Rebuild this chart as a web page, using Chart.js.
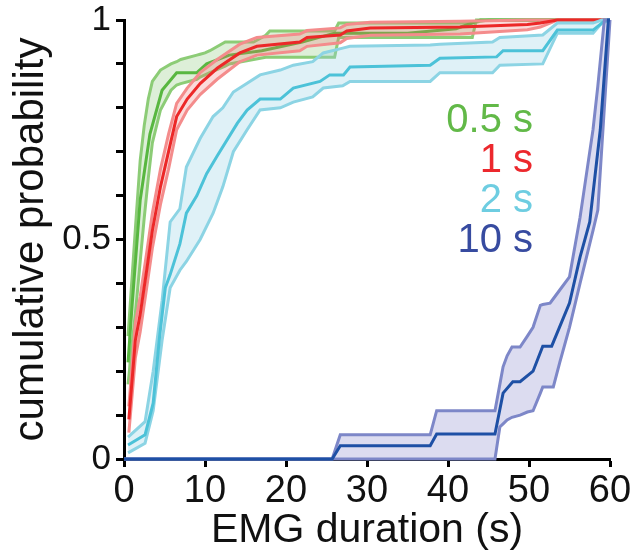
<!DOCTYPE html>
<html>
<head>
<meta charset="utf-8">
<script src="https://cdn.jsdelivr.net/npm/chart.js@4.4.1/dist/chart.umd.min.js"></script>
<style>
	html, body { margin: 0; padding: 0; background: #fff; }
	#wrap { width: 641px; height: 557px; }
</style>
</head>
<body>
<div id="wrap"><canvas id="cdf-chart" width="641" height="557"></canvas></div>
<script>
// 0.5 s group
const greenX = [0.5, 1, 2, 3.2, 4.7, 6.5, 9, 10.2, 13, 17, 22, 26, 35, 41, 44, 60]
const greenMean = [0.22, 0.35, 0.59, 0.74, 0.84, 0.88, 0.88, 0.9, 0.92, 0.93, 0.95, 0.97, 0.97, 0.98, 1, 1]
const greenBandX = [0.5, 1.5, 2, 2.5, 3, 3.5, 4.5, 5.8, 6.5, 7, 9, 9.4, 10, 10.6, 12.5, 13, 16, 17.5, 18, 26, 26.5, 43, 43.5, 44, 45, 60]
const greenUpper = [0.28, 0.55, 0.68, 0.76, 0.82, 0.86, 0.886, 0.9, 0.905, 0.91, 0.92, 0.922, 0.925, 0.93, 0.95, 0.95, 0.95, 0.965, 0.975, 0.975, 0.993, 0.993, 0.995, 0.997, 1, 1]
const greenLower = [0.17, 0.35, 0.45, 0.55, 0.64, 0.72, 0.795, 0.84, 0.852, 0.855, 0.865, 0.87, 0.875, 0.88, 0.895, 0.9, 0.91, 0.915, 0.915, 0.915, 0.96, 0.96, 1, 1, 1, 1]

// 1 s group
const redX = [0.6, 1.4, 2, 2.8, 3.5, 4.5, 5.5, 6.5, 7.8, 9.4, 11.5, 14.3, 16.4, 21.7, 22.6, 26.7, 27.5, 30.4, 41.5, 49.8, 51.4, 53.5, 60]
const redMean = [0.09, 0.27, 0.33, 0.43, 0.52, 0.62, 0.7, 0.78, 0.82, 0.855, 0.89, 0.925, 0.94, 0.95, 0.96, 0.966, 0.975, 0.982, 0.984, 0.99, 0.993, 1, 1]
const redUpper = [0.12, 0.31, 0.37, 0.47, 0.56, 0.66, 0.74, 0.81, 0.845, 0.88, 0.91, 0.945, 0.96, 0.968, 0.976, 0.982, 0.99, 0.995, 0.997, 1, 1, 1, 1]
const redLower = [0.06, 0.23, 0.29, 0.39, 0.48, 0.58, 0.66, 0.75, 0.795, 0.83, 0.865, 0.905, 0.92, 0.93, 0.94, 0.948, 0.958, 0.965, 0.968, 0.978, 0.984, 1, 1]

// 2 s group
const cyanX = [0.5, 2.6, 3.6, 4.4, 5.1, 5.7, 6.9, 7.7, 9, 10.2, 11.5, 14, 15.2, 16.8, 19.3, 20.9, 24.2, 25.4, 27.1, 27.9, 37.8, 39, 46, 46.8, 51.7, 53.5, 57.9, 59, 59.5, 60]
const cyanMean = [0.032, 0.055, 0.127, 0.28, 0.39, 0.42, 0.49, 0.56, 0.6, 0.65, 0.69, 0.765, 0.795, 0.82, 0.82, 0.845, 0.86, 0.875, 0.875, 0.893, 0.897, 0.913, 0.916, 0.93, 0.93, 0.977, 0.977, 0.993, 1, 1]
const cyanBandX = [0.5, 2.6, 3.6, 4.7, 5.7, 6.9, 7.7, 9.4, 11, 12.2, 13.5, 15.2, 16.8, 19.3, 20.9, 23.3, 24.6, 27, 27.9, 37.8, 39, 45.5, 46.4, 51.7, 53.5, 57.9, 59, 60]
const cyanUpper = [0.05, 0.085, 0.2, 0.36, 0.54, 0.57, 0.665, 0.73, 0.78, 0.8, 0.836, 0.856, 0.875, 0.886, 0.897, 0.905, 0.925, 0.936, 0.94, 0.943, 0.945, 0.95, 0.96, 0.966, 0.993, 0.993, 1, 1]
const cyanLower = [0.014, 0.036, 0.11, 0.27, 0.39, 0.43, 0.45, 0.5, 0.56, 0.62, 0.7, 0.75, 0.795, 0.8, 0.813, 0.825, 0.845, 0.85, 0.86, 0.86, 0.88, 0.88, 0.897, 0.9, 0.97, 0.97, 0.993, 1]

// 10 s group
const blueX = [0, 25.7, 26.7, 37.8, 38.6, 45.8, 46.8, 48, 48.9, 50.5, 51.7, 52.8, 55, 56.3, 57.5, 58.8, 59.8, 60]
const blueMean = [0, 0, 0.03, 0.03, 0.057, 0.057, 0.15, 0.176, 0.176, 0.2, 0.257, 0.257, 0.355, 0.46, 0.54, 0.75, 1, 1]
const blueBandX = [0, 25.7, 26.7, 37.8, 38.6, 45.8, 46.4, 46.8, 47.3, 47.9, 48.9, 49.8, 50.5, 51.4, 51.7, 52.6, 53, 53.8, 55, 56.3, 56.7, 57.9, 58.5, 59.3, 60]
const blueUpper = [0, 0, 0.055, 0.055, 0.11, 0.11, 0.17, 0.21, 0.235, 0.255, 0.255, 0.28, 0.3, 0.35, 0.352, 0.355, 0.365, 0.385, 0.415, 0.55, 0.6, 0.75, 0.85, 1, 1]
const blueLower = [0, 0, 0, 0, 0, 0, 0.073, 0.08, 0.089, 0.095, 0.1, 0.107, 0.11, 0.15, 0.164, 0.164, 0.164, 0.22, 0.3, 0.4, 0.43, 0.52, 0.567, 0.8, 1]

const groupLabels = ['0.5 s', '1 s', '2 s', '10 s']
const xTicks = [0, 10, 20, 30, 40, 50, 60]
const yLabelled = [0, 0.5, 1]

function toPoints(xs, ys) {
	return xs.map((x, i) => ({ x: x, y: ys[i] }))
}

const fontFamily = "'Liberation Sans', Arial, Helvetica, sans-serif"

// group styles: mean colour, band edge colour, band fill, legend colour
const groups = [
	{ x: greenX, mean: greenMean, bx: greenBandX, up: greenUpper, lo: greenLower, line: 'rgb(88,183,64)', edge: 'rgb(140,204,118)', fill: 'rgba(120,190,100,0.25)', text: 'rgb(98,185,72)' },
	{ x: redX, mean: redMean, bx: redX, up: redUpper, lo: redLower, line: 'rgb(236,40,40)', edge: 'rgb(244,140,140)', fill: 'rgba(240,110,110,0.25)', text: 'rgb(236,40,45)' },
	{ x: cyanX, mean: cyanMean, bx: cyanBandX, up: cyanUpper, lo: cyanLower, line: 'rgb(76,194,216)', edge: 'rgb(140,212,228)', fill: 'rgba(150,210,230,0.3)', text: 'rgb(110,205,225)' },
	{ x: blueX, mean: blueMean, bx: blueBandX, up: blueUpper, lo: blueLower, line: 'rgb(30,80,165)', edge: 'rgb(125,135,200)', fill: 'rgba(130,130,200,0.28)', text: 'rgb(55,75,160)' }
]

let datasets = []
groups.forEach((g, index) => {
	let base = (4 - index) * 10
	datasets.push({
		label: groupLabels[index] + ' upper',
		data: toPoints(g.bx, g.up),
		borderColor: g.edge,
		backgroundColor: g.fill,
		borderWidth: 3,
		pointRadius: 0,
		fill: '+1',
		order: base + 2,
		clip: 6
	})
	datasets.push({
		label: groupLabels[index] + ' lower',
		data: toPoints(g.bx, g.lo),
		borderColor: g.edge,
		borderWidth: 3,
		pointRadius: 0,
		fill: false,
		order: base + 1,
		clip: 6
	})
	datasets.push({
		label: groupLabels[index],
		data: toPoints(g.x, g.mean),
		borderColor: g.line,
		borderWidth: 3,
		pointRadius: 0,
		fill: false,
		order: base,
		clip: 6
	})
})

// group names written inside the plot, right aligned
const groupNames = {
	id: 'groupNames',
	afterDatasetsDraw(chart) {
		const ctx = chart.ctx
		const xs = chart.scales.x
		const ys = chart.scales.y
		ctx.save()
		ctx.font = '40px ' + fontFamily
		ctx.textAlign = 'right'
		ctx.textBaseline = 'alphabetic'
		groups.forEach((g, i) => {
			ctx.fillStyle = g.text
			ctx.fillText(groupLabels[i], xs.getPixelForValue(50.5), ys.getPixelForValue(0.745 - i * 0.091))
		})
		ctx.restore()
	}
}

const cdfChart = new Chart(document.querySelector('#cdf-chart'), {
	type: 'line',
	data: { datasets: datasets },
	options: {
		responsive: false,
		animation: false,
		events: [],
		layout: { padding: { top: 20, right: 31, left: 0, bottom: 0 } },
		plugins: { legend: { display: false }, tooltip: { enabled: false } },
		elements: { line: { tension: 0 } },
		scales: {
			x: {
				type: 'linear',
				min: 0,
				max: 60,
				afterFit(scale) {
					scale.height = 98
					scale.paddingLeft = 0
					scale.paddingRight = 0
				},
				afterBuildTicks(scale) { scale.ticks = xTicks.map(v => ({ value: v })) },
				border: { display: true, color: '#000', width: 3 },
				grid: { drawOnChartArea: false, drawTicks: true, tickLength: 8, tickWidth: 3, color: '#000' },
				ticks: { color: '#111', padding: 2, maxRotation: 0, autoSkip: false, font: { family: fontFamily, size: 38 } },
				title: { display: true, text: 'EMG duration (s)', color: '#111', padding: { top: 0, bottom: 2 }, font: { family: fontFamily, size: 41, lineHeight: 1.2 } }
			},
			y: {
				type: 'linear',
				min: 0,
				max: 1,
				afterFit(scale) {
					scale.width = 124
					scale.paddingTop = 0
					scale.paddingBottom = 0
				},
				ticks: {
					stepSize: 0.1,
					autoSkip: false,
					color: '#111',
					padding: 5,
					font: { family: fontFamily, size: 35 },
					callback(value) {
						let v = Math.round(value * 10) / 10
						return yLabelled.includes(v) ? String(v) : ''
					}
				},
				border: { display: true, color: '#000', width: 3 },
				grid: { drawOnChartArea: false, drawTicks: true, tickLength: 8, tickWidth: 3, color: '#000' },
				title: { display: true, text: 'cumulative probability', color: '#111', padding: { top: 6, bottom: 0 }, font: { family: fontFamily, size: 42, lineHeight: 1.2 } }
			}
		}
	},
	plugins: [groupNames]
})
</script>
</body>
</html>
